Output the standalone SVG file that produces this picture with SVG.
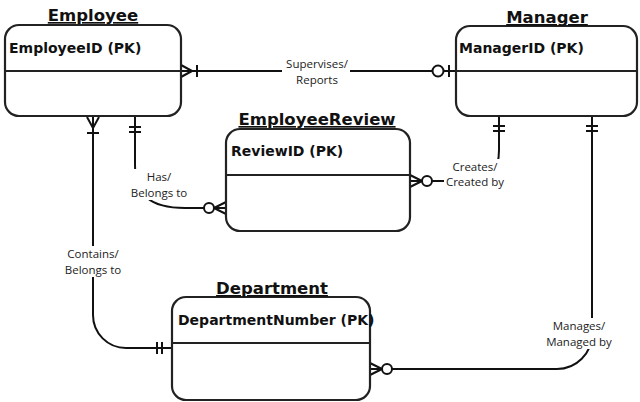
<svg xmlns="http://www.w3.org/2000/svg" xmlns:xlink="http://www.w3.org/1999/xlink" width="640" height="402" viewBox="0 0 640 402">
<style>
.box{fill:#fff;stroke:#222;stroke-width:2.2}
.div{stroke:#222;stroke-width:2}
.title{font-family:"DejaVu Sans",Verdana,sans-serif;font-weight:bold;font-size:16.5px;fill:#111;text-anchor:middle;text-decoration:underline}
.attr{font-family:"DejaVu Sans",Verdana,sans-serif;font-weight:bold;font-size:14px;fill:#111}
.conn{fill:none;stroke:#111;stroke-width:2}
.sym{fill:none;stroke:#111;stroke-width:2}
.sym circle{fill:#fff}
.lbl{font-family:"Open Sans","Noto Sans",sans-serif;font-size:11.5px;fill:#222;text-anchor:middle}
.bg{fill:#fff;stroke:none}
</style>
<defs>
<g id="oneMany" class="sym"><path d="M0,-6 L11,0 M0,6 L11,0 M16,-6 V6"/></g>
<g id="zeroOne" class="sym"><path d="M6,-6 V6"/><circle cx="17" cy="0" r="5.5"/></g>
<g id="oneOne" class="sym"><path d="M10,-6 V6 M15,-6 V6"/></g>
<g id="zeroMany" class="sym"><path d="M0,-6 L12,0 M0,6 L12,0"/><circle cx="17" cy="0" r="5"/></g>
</defs>

<g id="connectors">
<path class="conn" d="M181,71 H455"/>
<path class="conn" d="M93,117 V315 A33,33 0 0 0 126,348 H172"/>
<path class="conn" d="M135,117 V165 C135,195 150,208 185,208 H226"/>
<path class="conn" d="M499,116 V150 C499,172 490,181 470,181 H410"/>
<path class="conn" d="M592,116 V334 A35,35 0 0 1 557,369 H370"/>
<use xlink:href="#oneMany" transform="translate(181,71)"/>
<use xlink:href="#zeroOne" transform="translate(455,71) rotate(180)"/>
<use xlink:href="#oneMany" transform="translate(93,117) rotate(90)"/>
<use xlink:href="#oneOne" transform="translate(135,117) rotate(90)"/>
<use xlink:href="#zeroMany" transform="translate(226,208) rotate(180)"/>
<use xlink:href="#oneOne" transform="translate(499,116) rotate(90)"/>
<use xlink:href="#zeroMany" transform="translate(410,181)"/>
<use xlink:href="#oneOne" transform="translate(592,116) rotate(90)"/>
<use xlink:href="#oneOne" transform="translate(172,348) rotate(180)"/>
<use xlink:href="#zeroMany" transform="translate(370,369)"/>
<rect class="bg" x="282" y="57" width="68" height="30"/>
<text class="lbl" x="317" y="68">Supervises/</text>
<text class="lbl" x="317" y="84">Reports</text>
<rect class="bg" x="129" y="169" width="60" height="31"/>
<text class="lbl" x="159" y="181">Has/</text>
<text class="lbl" x="159" y="197">Belongs to</text>
<rect class="bg" x="444" y="159" width="62" height="30"/>
<text class="lbl" x="475" y="171">Creates/</text>
<text class="lbl" x="475" y="186">Created by</text>
<rect class="bg" x="63" y="246" width="60" height="31"/>
<text class="lbl" x="93" y="258">Contains/</text>
<text class="lbl" x="93" y="274">Belongs to</text>
<rect class="bg" x="544" y="318" width="72" height="31"/>
<text class="lbl" x="579" y="330">Manages/</text>
<text class="lbl" x="579" y="346">Managed by</text>
</g>

<g id="employee">
<rect class="box" x="5" y="25" width="176" height="91" rx="14"/>
<line class="div" x1="5" y1="71" x2="181" y2="71"/>
<text class="title" x="93" y="21">Employee</text>
<text class="attr" x="9" y="53">EmployeeID (PK)</text>
</g>

<g id="manager">
<rect class="box" x="456" y="26" width="181" height="90" rx="14"/>
<line class="div" x1="456" y1="71" x2="637" y2="71"/>
<text class="title" x="547" y="23">Manager</text>
<text class="attr" x="459" y="53">ManagerID (PK)</text>
</g>

<g id="employeereview">
<rect class="box" x="226" y="129" width="184" height="102" rx="14"/>
<line class="div" x1="226" y1="175" x2="410" y2="175"/>
<text class="title" x="317" y="125">EmployeeReview</text>
<text class="attr" x="231" y="156">ReviewID (PK)</text>
</g>

<g id="department">
<rect class="box" x="172" y="297" width="198" height="103" rx="14"/>
<line class="div" x1="172" y1="343" x2="370" y2="343"/>
<text class="title" x="272" y="294">Department</text>
<text class="attr" x="178" y="325">DepartmentNumber (PK)</text>
</g>
</svg>
